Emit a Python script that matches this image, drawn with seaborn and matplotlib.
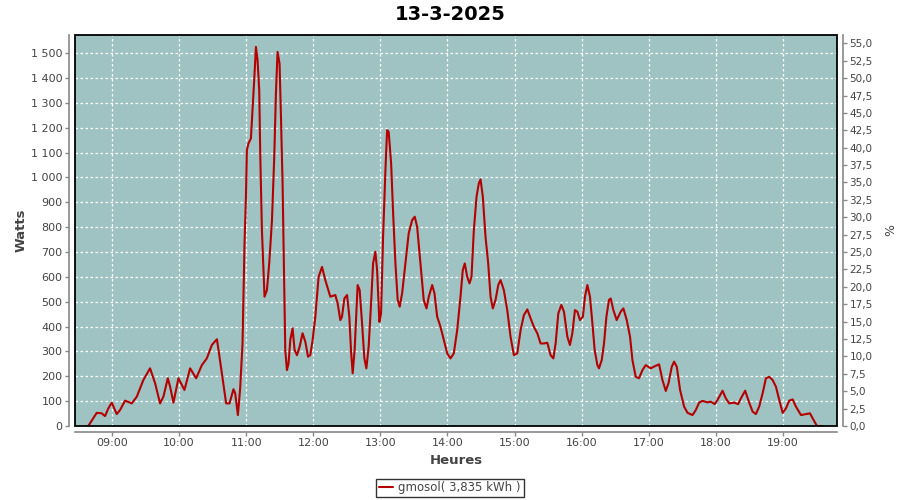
import numpy as np
import pandas as pd
import matplotlib
matplotlib.use("Agg")
import matplotlib.pyplot as plt
import matplotlib.dates as mdates
from matplotlib.ticker import FixedLocator, FuncFormatter
from matplotlib.patches import Rectangle
import seaborn as sns

# ---- data (hours of day, watts) ----
hours = [8.646, 8.772, 8.846, 8.896, 8.945, 8.996, 9.070, 9.119, 9.194, 9.294,
         9.369, 9.467, 9.567, 9.642, 9.716, 9.766, 9.831, 9.866, 9.915, 9.990,
         10.079, 10.164, 10.254, 10.339, 10.413, 10.488, 10.563, 10.587, 10.637, 10.701,
         10.751, 10.810, 10.836, 10.876, 10.910, 10.945, 10.960, 10.975, 10.996, 11.010,
         11.034, 11.070, 11.094, 11.119, 11.145, 11.169, 11.194, 11.209, 11.234, 11.273,
         11.309, 11.343, 11.384, 11.418, 11.443, 11.467, 11.497, 11.518, 11.542, 11.557,
         11.582, 11.607, 11.631, 11.657, 11.691, 11.721, 11.757, 11.796, 11.840, 11.881,
         11.921, 11.955, 11.990, 12.030, 12.079, 12.130, 12.179, 12.254, 12.328, 12.363,
         12.403, 12.428, 12.463, 12.503, 12.537, 12.563, 12.587, 12.616, 12.661, 12.691,
         12.727, 12.761, 12.791, 12.825, 12.861, 12.891, 12.925, 12.951, 12.985, 13.010,
         13.040, 13.075, 13.100, 13.124, 13.160, 13.190, 13.224, 13.258, 13.288, 13.324,
         13.373, 13.422, 13.473, 13.512, 13.548, 13.597, 13.646, 13.687, 13.721, 13.772,
         13.806, 13.846, 13.896, 13.945, 13.996, 14.045, 14.094, 14.145, 14.194, 14.228,
         14.258, 14.294, 14.328, 14.358, 14.393, 14.433, 14.467, 14.493, 14.527, 14.567,
         14.607, 14.642, 14.676, 14.716, 14.757, 14.791, 14.840, 14.891, 14.940, 14.990,
         15.040, 15.090, 15.139, 15.190, 15.239, 15.288, 15.339, 15.388, 15.437, 15.488,
         15.537, 15.578, 15.612, 15.652, 15.697, 15.736, 15.787, 15.825, 15.861, 15.900,
         15.936, 15.975, 16.019, 16.049, 16.085, 16.124, 16.160, 16.194, 16.234, 16.258,
         16.299, 16.333, 16.369, 16.407, 16.433, 16.473, 16.522, 16.582, 16.622, 16.672,
         16.721, 16.757, 16.806, 16.855, 16.906, 16.955, 17.030, 17.094, 17.154, 17.204,
         17.254, 17.294, 17.343, 17.378, 17.418, 17.467, 17.527, 17.578, 17.652, 17.701,
         17.751, 17.801, 17.876, 17.925, 17.985, 18.025, 18.100, 18.149, 18.199, 18.273,
         18.333, 18.373, 18.437, 18.497, 18.548, 18.597, 18.646, 18.697, 18.746, 18.796,
         18.846, 18.896, 18.945, 18.996, 19.045, 19.094, 19.145, 19.194, 19.269, 19.343,
         19.403, 19.443, 19.507, 19.591]

watts = [0, 53, 51, 40, 71, 94, 48, 64, 102, 91,
         118, 185, 232, 172, 91, 118, 192, 158, 94, 192,
         145, 232, 192, 245, 272, 326, 349, 306, 212, 91,
         91, 148, 131, 44, 152, 332, 534, 735, 922, 1110,
         1137, 1157, 1271, 1391, 1525, 1472, 1351, 1097, 788, 520,
         547, 654, 828, 1083, 1338, 1505, 1458, 1244, 976, 721,
         306, 225, 252, 346, 393, 306, 285, 319, 373, 339,
         279, 285, 346, 440, 600, 640, 587, 520, 527, 493,
         426, 440, 513, 527, 440, 299, 212, 306, 567, 547,
         413, 272, 232, 319, 493, 654, 701, 627, 419, 453,
         761, 1029, 1190, 1183, 1056, 855, 654, 507, 480, 534,
         654, 775, 828, 842, 801, 654, 507, 473, 520, 567,
         534, 440, 399, 346, 292, 272, 292, 386, 520, 627,
         654, 600, 574, 600, 788, 922, 976, 992, 922, 761,
         654, 520, 473, 507, 567, 587, 547, 466, 359, 285,
         292, 386, 446, 469, 433, 399, 373, 332, 332, 335,
         285, 272, 332, 453, 487, 460, 359, 326, 373, 466,
         460, 426, 440, 520, 567, 520, 413, 306, 245, 232,
         265, 332, 440, 507, 513, 466, 426, 460, 473, 426,
         359, 265, 198, 192, 225, 245, 232, 241, 248, 185,
         141, 172, 238, 259, 238, 145, 78, 53, 44, 64,
         94, 101, 95, 98, 88, 105, 142, 111, 91, 94,
         88, 111, 142, 94, 58, 48, 78, 131, 192, 198,
         185, 158, 105, 53, 71, 102, 107, 78, 44, 48,
         51, 31, 0, 0]

series_label = "gmosol( 3,835 kWh )"
title_text = "13-3-2025"
day = "2025-03-13"
x_tick_hours = list(range(9, 20))
left_ticks = list(range(0, 1501, 100))
right_ticks = [i * 2.5 for i in range(23)]

# ---- styling ----
sns.set_theme(style="white")
plt.rcParams['font.family'] = ['DejaVu Sans']

face = "#9fc3c2"
line_col = "#b40000"
txt_col = "#444444"
axis_col = "#888888"

base = pd.Timestamp(day)
df = pd.DataFrame({
    "time": [base + pd.to_timedelta(h, unit="h") for h in hours],
    "watts": watts,
})

fig = plt.figure(figsize=(9, 5), dpi=100)
ax = fig.add_axes([75 / 900, 1 - 426 / 500, (837 - 75) / 900, (426 - 35) / 500])
ax.set_facecolor(face)

sns.lineplot(data=df, x="time", y="watts", ax=ax, color=line_col, lw=1.5,
             estimator=None, sort=False, label=series_label, legend=False)

ax.set_xlim(base + pd.to_timedelta(8.448, unit="h"), base + pd.to_timedelta(19.806, unit="h"))
ax.set_ylim(0, 1573)

ax.xaxis.set_major_locator(FixedLocator([mdates.date2num(base + pd.to_timedelta(h, unit="h")) for h in x_tick_hours]))
ax.xaxis.set_major_formatter(mdates.DateFormatter("%H:%M"))
ax.set_yticks(left_ticks)
ax.yaxis.set_major_formatter(FuncFormatter(lambda v, p: f"{int(v):,}".replace(",", " ")))

ax.grid(True, color="white", linestyle=(0, (2, 2)), linewidth=0.9)
ax.set_axisbelow(True)

for s in ["top", "right"]:
    ax.spines[s].set_visible(False)
for s in ["left", "bottom"]:
    ax.spines[s].set_position(("outward", 4))
    ax.spines[s].set_color(axis_col)
    ax.spines[s].set_linewidth(1.2)

ax.tick_params(axis="both", which="major", direction="out", length=3, width=1,
               color=axis_col, labelcolor=txt_col, labelsize=8, pad=2, left=True, bottom=True)

ax.set_xlabel("Heures", fontsize=9.5, color=txt_col, fontweight="bold", labelpad=4)
ax.set_ylabel("Watts", fontsize=9.5, color=txt_col, fontweight="bold", labelpad=2)

# black border of the plot area
ax.add_patch(Rectangle((0, 0), 1, 1, transform=ax.transAxes, fill=False,
                       edgecolor="black", lw=1.3, clip_on=False, zorder=5))

ax2 = ax.twinx()
ax2.set_ylim(0, 56.2)
ax2.set_yticks(right_ticks)
ax2.yaxis.set_major_formatter(FuncFormatter(lambda v, p: f"{v:.1f}".replace(".", ",")))
ax2.grid(False)
for s in ["top", "left", "bottom"]:
    ax2.spines[s].set_visible(False)
ax2.spines["right"].set_position(("outward", 4))
ax2.spines["right"].set_color(axis_col)
ax2.spines["right"].set_linewidth(1.2)
ax2.tick_params(axis="y", direction="out", length=3, width=1, color=axis_col,
                labelcolor=txt_col, labelsize=7.5, pad=2, right=True)
ax2.set_ylabel("%", fontsize=9, color=txt_col, labelpad=8)

fig.text(0.5, 1 - 15 / 500, title_text, ha="center", va="center",
         fontsize=14, fontweight="bold", color="black")

handles, labels = ax.get_legend_handles_labels()
leg = fig.legend(handles, labels, loc="center", bbox_to_anchor=(450 / 900, 1 - 488 / 500),
                 frameon=True, fancybox=False, fontsize=8.5, handlelength=1.2,
                 borderpad=0.25, handletextpad=0.4, borderaxespad=0)
leg.get_frame().set_edgecolor("black")
leg.get_frame().set_linewidth(1.0)
for t in leg.get_texts():
    t.set_color(txt_col)

fig.savefig("out.png", dpi=100)
